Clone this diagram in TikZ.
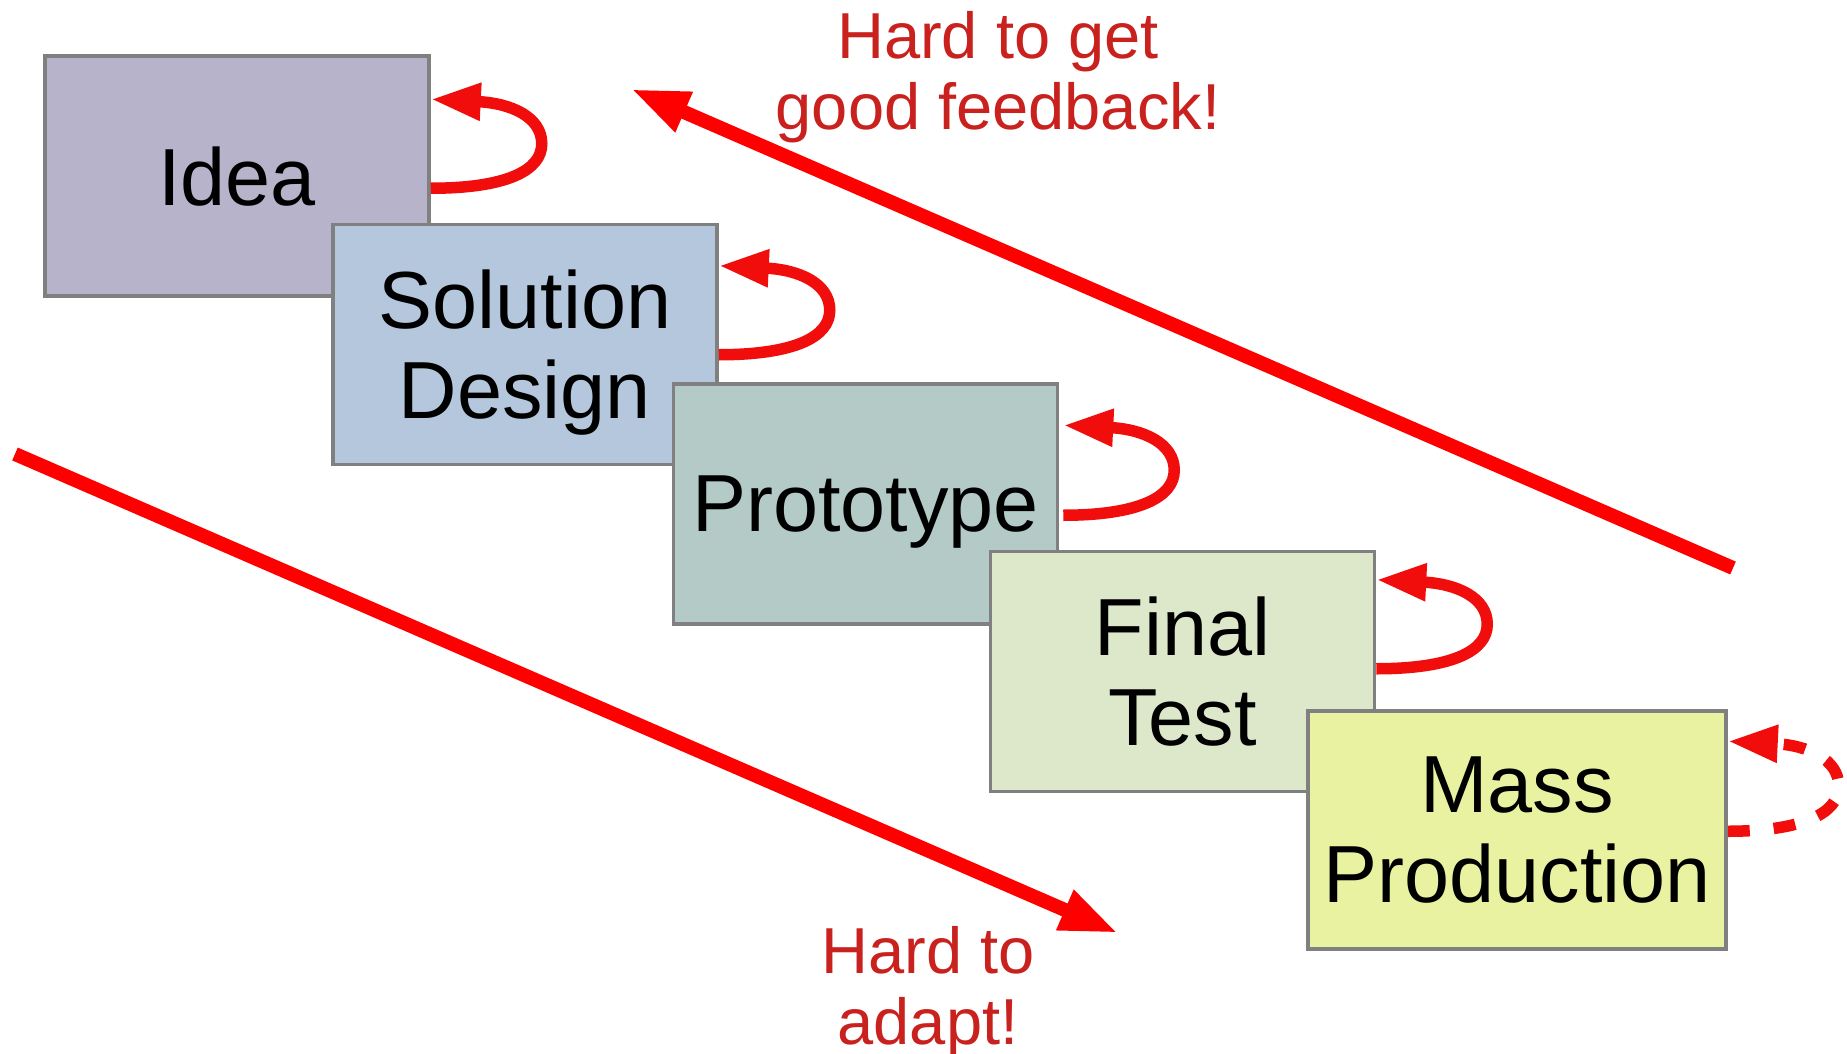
\documentclass[tikz,border=0pt]{standalone}
\usepackage{fontspec}
\setmainfont{Liberation Sans}
\usetikzlibrary{arrows.meta,calc}
\definecolor{boxgrey}{HTML}{808080}
\definecolor{cidea}{HTML}{B7B3CA}
\definecolor{csol}{HTML}{B4C7DC}
\definecolor{cproto}{HTML}{B3CAC7}
\definecolor{cfinal}{HTML}{DDE8CB}
\definecolor{cmass}{HTML}{E8F2A1}
\definecolor{loopred}{HTML}{F10D0C}
\definecolor{bigred}{HTML}{FF0000}
\definecolor{notered}{HTML}{C9211E}
\newcommand\myloop[5][]{%
  \draw[loopline,#1] ($(#2.north east)+(#3,#5)$) coordinate (#2-lo)
    .. controls +(75,0) and +(0,27) .. ($(#2.north east)+({#3+111},{(#4+#5)/2})$)
    .. controls +(0,-27) and +(80,4) .. ($(#2.north east)+(#3,#4)$) coordinate (#2-tip);}
\begin{document}
\begin{tikzpicture}[x=1pt,y=-1pt,
  stage/.style={draw=boxgrey, line width=3.5pt, rectangle, minimum width=384pt,
    minimum height=240pt, inner sep=0pt, align=center,
    font=\fontsize{81}{90}\selectfont, text depth=0pt},
  loopline/.style={draw=loopred, line width=11.5pt, -{Triangle[length=50pt,width=35pt]}},
  bigarrow/.style={draw=bigred, line width=14pt, -{Triangle[length=58pt,width=40pt]}},
  note/.style={text=notered, align=center, font=\fontsize{65}{71}\selectfont}]
\useasboundingbox (0,0) rectangle (1847,1054);
\node[stage, fill=cidea] (idea) at (237,176) {Idea};
\node[stage, fill=csol] (sol) at (525,344.5) {Solution\\Design};
\node[stage, fill=cproto] (proto) at (865.5,504) {Prototype};
\node[stage, fill=cfinal] (final) at (1182.5,671.5) {Final\\Test};
\node[stage, fill=cmass, minimum width=418pt, minimum height=238pt] (mass) at (1517,830) {Mass\\Production};
\myloop{idea}{0}{45}{134}
\myloop{sol}{0}{43}{132}
\myloop{proto}{4}{43}{133}
\myloop{final}{0}{30}{119}
\myloop[dash pattern=on 22pt off 24pt]{mass}{0}{32}{122}
\coordinate (dstart) at (15,454);
\coordinate (dend) at (1118,933);
\coordinate (ustart) at (1733,568);
\coordinate (uend) at (631,89);
\draw[bigarrow] (dstart) -- (dend);
\draw[bigarrow] (ustart) -- (uend);
\node[note] (fb) at (998,77) {Hard to get\\good feedback!};
\node[note] (ad) at (928,992) {Hard to\\adapt!};
\end{tikzpicture}
\end{document}
